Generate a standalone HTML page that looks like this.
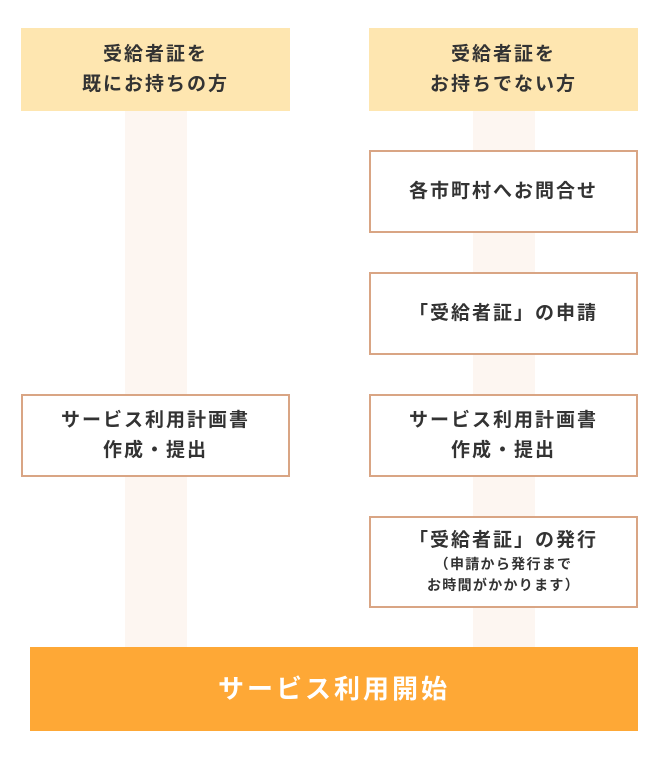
<!DOCTYPE html>
<html><head><meta charset="utf-8"><style>
body{margin:0;width:667px;height:770px;background:#fff;position:relative;font-family:"Liberation Sans","Noto Sans CJK JP",sans-serif;color:#333;overflow:hidden}
.a{position:absolute;box-sizing:border-box;display:flex;flex-direction:column;align-items:center;justify-content:center;text-align:center;font-weight:bold;font-size:19px;letter-spacing:2px;line-height:30px}
.s{position:absolute;background:#fdf6f1}
.h{background:#fee6b0}
.b{background:#fff;border:2px solid #d9a584}
.small{font-size:14px;letter-spacing:1.3px;line-height:21px}
</style></head><body>
<div class="s" style="left:125px;top:111px;width:62px;height:536px"></div>
<div class="s" style="left:473px;top:111px;width:62px;height:536px"></div>
<div class="a h" style="left:21px;top:28px;width:269px;height:83px">受給者証を<br>既にお持ちの方</div>
<div class="a h" style="left:369px;top:28px;width:269px;height:83px">受給者証を<br>お持ちでない方</div>
<div class="a b" style="left:369px;top:150px;width:269px;height:83px">各市町村へお問合せ</div>
<div class="a b" style="left:369px;top:272px;width:269px;height:83px">「受給者証」の申請</div>
<div class="a b" style="left:21px;top:394px;width:269px;height:83px">サービス利用計画書<br>作成・提出</div>
<div class="a b" style="left:369px;top:394px;width:269px;height:83px">サービス利用計画書<br>作成・提出</div>
<div class="a b" style="left:369px;top:516px;width:269px;height:92px"><div style="line-height:26px">「受給者証」の発行</div><div class="small">（申請から発行まで<br>お時間がかかります）</div></div>
<div class="a" style="left:30px;top:647px;width:608px;height:84px;background:#fea836;color:#fff;font-size:26px;letter-spacing:3px">サービス利用開始</div>
</body></html>
